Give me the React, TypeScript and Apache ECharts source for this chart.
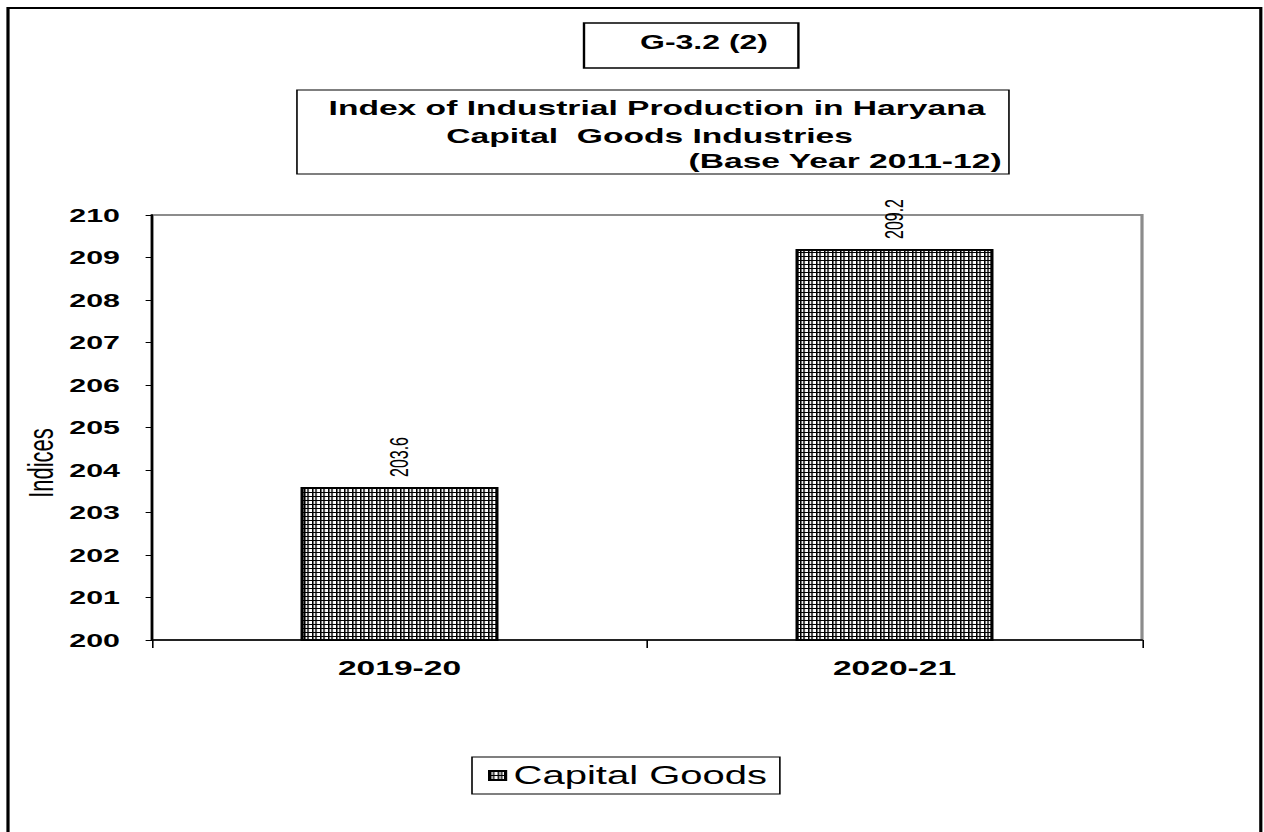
import React, { useEffect, useRef } from "react";
import * as echarts from "echarts";

const categories = ["2019-20", "2020-21"];
const capitalGoods = [203.6, 209.2];
const seriesName = "Capital Goods";
const yMin = 200;
const yMax = 210;
const yInterval = 1;

const S = 1.6; // horizontal stretch of the reference picture
const W = 1264 / S;
const H = 832;
const FONT = "Liberation Sans, Arial, Helvetica, sans-serif";

function makePattern() {
  const c = document.createElement("canvas");
  c.width = 5;
  c.height = 4;
  const ctx = c.getContext("2d")!;
  ctx.fillStyle = "#ffffff";
  ctx.fillRect(0, 0, 5, 4);
  ctx.fillStyle = "#000000";
  ctx.fillRect(0, 0, 1, 4);
  ctx.fillRect(2, 0, 1, 4);
  ctx.fillRect(0, 0, 5, 1);
  return { image: c, repeat: "repeat", imageWidth: 5, imageHeight: 4 } as any;
}

export default function App() {
  const ref = useRef<HTMLDivElement>(null);
  useEffect(() => {
    if (!ref.current) return;
    const chart = echarts.init(ref.current, null, { renderer: "svg" });
    const pattern = makePattern();
    chart.setOption({
      animation: false,
      backgroundColor: "#ffffff",
      textStyle: { fontFamily: FONT, color: "#000" },
      grid: {
        left: 95,
        right: W - 1142 / S,
        top: 215,
        bottom: H - 640,
        show: true,
        borderColor: "#8c8c8c",
        borderWidth: 2,
        containLabel: false,
      },
      legend: {
        data: [seriesName],
        icon: "rect",
        left: 295,
        top: 757,
        padding: [6, 8, 6, 10],
        borderColor: "#000",
        borderWidth: 1,
        itemWidth: 10,
        itemHeight: 9,
        textStyle: { fontSize: 25, color: "#000", fontFamily: FONT },
      },
      xAxis: {
        type: "category",
        data: categories,
        axisLine: { lineStyle: { color: "#000", width: 1.5 } },
        axisTick: { show: true, length: 8, alignWithLabel: false, lineStyle: { color: "#000" } },
        axisLabel: { fontSize: 21, fontWeight: "bold", color: "#000", margin: 17, fontFamily: FONT },
        splitLine: { show: false },
      },
      yAxis: {
        type: "value",
        min: yMin,
        max: yMax,
        interval: yInterval,
        axisLine: { show: true, lineStyle: { color: "#000", width: 1.5 } },
        axisTick: { show: true, length: 4, lineStyle: { color: "#000" } },
        axisLabel: { fontSize: 19, fontWeight: "bold", color: "#000", margin: 20, fontFamily: FONT },
        splitLine: { show: false },
      },
      series: [
        {
          name: seriesName,
          type: "bar",
          data: capitalGoods,
          barWidth: "40%",
          itemStyle: { color: pattern, borderColor: "#000", borderWidth: 2 },
          label: {
            show: true,
            position: "top",
            rotate: 90,
            distance: 10,
            align: "left",
            verticalAlign: "middle",
            fontSize: 16,
            color: "#000",
            fontFamily: FONT,
            formatter: (p: any) => Number(p.value).toFixed(1),
          },
        },
      ],
      graphic: [
        {
          type: "rect",
          shape: { x: 5, y: 8, width: 783, height: 840 },
          style: { fill: "none", stroke: "#000", lineWidth: 2 },
          silent: true,
        },
        {
          type: "rect",
          shape: { x: 365, y: 23, width: 134, height: 45 },
          style: { fill: "#fff", stroke: "#000", lineWidth: 1.5 },
        },
        {
          type: "text",
          x: 440,
          y: 42,
          style: {
            text: "G-3.2 (2)",
            font: `bold 20px ${FONT}`,
            fill: "#000",
            align: "center",
            verticalAlign: "middle",
          },
        },
        {
          type: "rect",
          shape: { x: 185.6, y: 90, width: 445, height: 84 },
          style: { fill: "#fff", stroke: "#000", lineWidth: 1 },
        },
        {
          type: "text",
          x: 410.6,
          y: 108,
          style: {
            text: "Index of Industrial Production in Haryana",
            font: `bold 21px ${FONT}`,
            fill: "#000",
            align: "center",
            verticalAlign: "middle",
          },
        },
        {
          type: "text",
          x: 406,
          y: 136,
          style: {
            text: "Capital  Goods Industries",
            font: `bold 21px ${FONT}`,
            fill: "#000",
            align: "center",
            verticalAlign: "middle",
          },
        },
        {
          type: "text",
          x: 626,
          y: 161,
          style: {
            text: "(Base Year 2011-12)",
            font: `bold 21px ${FONT}`,
            fill: "#000",
            align: "right",
            verticalAlign: "middle",
          },
        },
        {
          type: "text",
          x: 25,
          y: 463,
          rotation: Math.PI / 2,
          style: {
            text: "Indices",
            font: `22px ${FONT}`,
            fill: "#000",
            align: "center",
            verticalAlign: "middle",
          },
        },
      ],
    });
    return () => chart.dispose();
  }, []);
  return (
    <div
      ref={ref}
      style={{
        position: "absolute",
        left: 0,
        top: 0,
        width: W,
        height: H,
        transform: `scaleX(${S})`,
        transformOrigin: "0 0",
      }}
    />
  );
}
